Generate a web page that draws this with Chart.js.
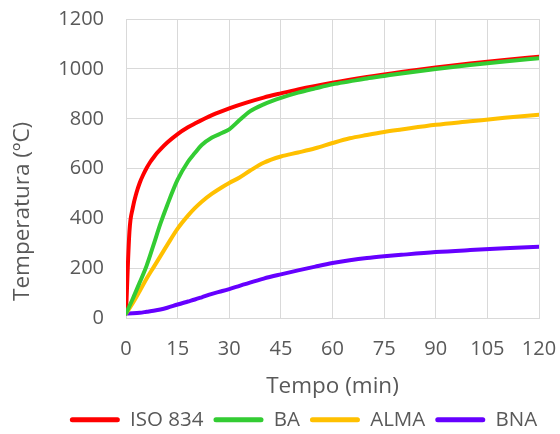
<!DOCTYPE html>
<html>
<head>
<meta charset="utf-8">
<script src="https://cdn.jsdelivr.net/npm/chart.js@4"></script>
<style>
  body { margin: 0; background: #fff; }
  #wrap { width: 560px; height: 434px; }
</style>
</head>
<body>
<div id="wrap"><canvas id="tempChart" width="560" height="434"></canvas></div>
<script>
// ISO 834 standard curve (min, ºC)
var isoTime = [0, 1, 2, 3, 4, 5, 6, 7, 8, 9, 10, 12, 15, 18, 20, 25, 30, 35, 40, 45, 50, 60, 70, 80, 90, 100, 110, 120];
var isoTemp = [20, 349, 445, 502, 544, 576, 603, 626, 645, 663, 678, 705, 739, 766, 781, 815, 842, 865, 885, 902, 918, 945, 968, 988, 1006, 1022, 1036, 1049];

// measured curves share the same time steps
var testTime = [0, 2, 4, 6, 8, 10, 12, 15, 18, 20, 22, 25, 28, 30, 33, 36, 40, 45, 50, 55, 60, 65, 70, 75, 80, 90, 100, 110, 120];
var baTemp   = [20, 80, 145, 212, 295, 380, 455, 556, 628, 663, 695, 725, 744, 758, 795, 830, 858, 884, 905, 922, 938, 950, 962, 972, 982, 1000, 1016, 1030, 1043];
var almaTemp = [20, 62, 110, 160, 205, 250, 295, 360, 412, 442, 468, 500, 527, 543, 565, 592, 624, 649, 665, 682, 703, 722, 735, 747, 757, 776, 790, 804, 816];
var bnaTemp  = [20, 21, 23, 27, 31, 36, 43, 56, 68, 76, 85, 99, 110, 118, 131, 144, 160, 177, 193, 208, 222, 233, 242, 249, 255, 266, 274, 281, 287];

var seriesNames = ['ISO 834', 'BA', 'ALMA', 'BNA'];
var seriesColors = ['#ff0000', '#33cc33', '#ffc000', '#6600ff'];

var textColor = '#595959';
var gridColor = '#d9d9d9';
var fontFamily = '"Open Sans", sans-serif';

const toPoints = (xs, ys) => xs.map((x, i) => ({ x: x, y: ys[i] }));

var curves = [
    toPoints(isoTime, isoTemp),
    toPoints(testTime, baTemp),
    toPoints(testTime, almaTemp),
    toPoints(testTime, bnaTemp)
];

var datasets = curves.map((pts, i) => ({
    label: seriesNames[i],
    data: pts,
    borderColor: seriesColors[i],
    backgroundColor: seriesColors[i],
    borderWidth: 4,
    borderCapStyle: 'round',
    borderJoinStyle: 'round',
    pointRadius: 0,
    cubicInterpolationMode: 'monotone',
    order: i === 0 ? 1 : 0   // red drawn under the green
}));

// the legend sits a bit lower and right of centre in the original
var legendShift = {
    id: 'legendShift',
    afterLayout(chart) {
        chart.legend.top += 6;
        chart.legend.bottom += 6;
        chart.legend.left += 34;
        chart.legend.right += 34;
    }
};

var config = {
    type: 'line',
    data: { datasets: datasets },
    options: {
        responsive: false,
        animation: false,
        layout: { padding: { top: 19, right: 21, left: 0, bottom: 0 } },
        plugins: {
            tooltip: { enabled: false },
            legend: {
                position: 'bottom',
                labels: {
                    color: textColor,
                    font: { family: fontFamily, size: 20.5 },
                    boxWidth: 50,
                    boxHeight: 5,
                    padding: 10,
                    useBorderRadius: true,
                    borderRadius: 2.5,
                    sort: (a, b) => a.datasetIndex - b.datasetIndex,
                    generateLabels: (chart) => {
                        let items = Chart.defaults.plugins.legend.labels.generateLabels(chart);
                        items.forEach(it => { it.lineWidth = 0; });
                        return items;
                    }
                }
            }
        },
        scales: {
            x: {
                type: 'linear',
                min: 0,
                max: 120,
                afterFit: (scale) => {
                    scale.height = 75;
                    scale.paddingLeft = 0;
                    scale.paddingRight = 0;
                },
                ticks: {
                    stepSize: 15,
                    padding: 19,
                    color: textColor,
                    font: { family: fontFamily, size: 20 },
                    callback: (v) => String(v)
                },
                grid: { color: gridColor, drawTicks: false },
                border: { color: gridColor },
                title: {
                    display: true,
                    text: 'Tempo (min)',
                    color: textColor,
                    font: { family: fontFamily, size: 22.5 },
                    padding: { top: 4, bottom: -6.5 }
                }
            },
            y: {
                min: 0,
                max: 1200,
                afterFit: (scale) => {
                    scale.width = 126;
                    scale.paddingTop = 0;
                    scale.paddingBottom = 0;
                },
                ticks: {
                    stepSize: 200,
                    padding: 22,
                    color: textColor,
                    font: { family: fontFamily, size: 20 },
                    callback: (v) => String(v)
                },
                grid: { color: gridColor, drawTicks: false },
                border: { color: gridColor },
                title: {
                    display: true,
                    align: 'start',
                    text: '   Temperatura (ºC)',
                    color: textColor,
                    font: { family: fontFamily, size: 22.5 },
                    padding: { top: 9.5, bottom: 0 }
                }
            }
        }
    },
    plugins: [legendShift]
};

var ctx = document.getElementById('tempChart');
window.tempChart = new Chart(ctx, config);
</script>
</body>
</html>
